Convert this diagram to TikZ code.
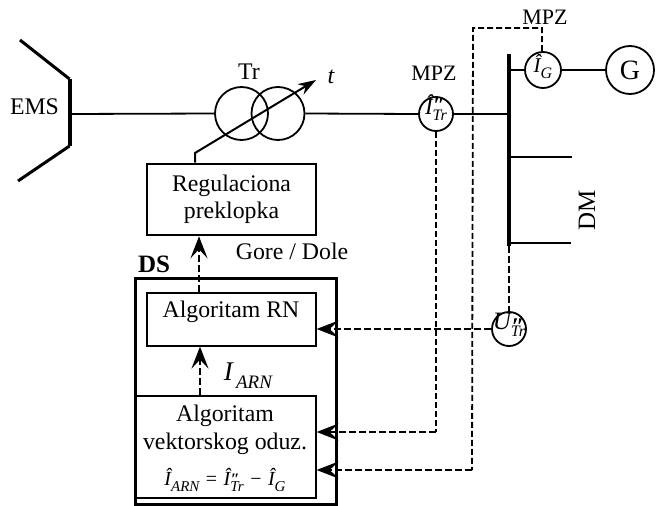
\documentclass[tikz,border=0pt]{standalone}
\usepackage{fontspec}
\setmainfont{Liberation Serif}
\usetikzlibrary{arrows.meta}
\def\subfs{16}
\def\supfs{22}
\def\suprs{0.05em}
\newcommand{\SubSup}[3]{{\itshape #1\rlap{\raisebox{\suprs}{\kern0.5pt\fontsize{\supfs}{\supfs}\selectfont\bfseries #2}}\raisebox{-0.3em}{\fontsize{\subfs}{\subfs}\selectfont #3}}}
\newcommand{\Sb}[2]{{\itshape #1\raisebox{-0.3em}{\fontsize{\subfs}{\subfs}\selectfont #2}}}
\newcommand{\Ctr}[1]{\smash{\makebox[0pt]{#1}}}
\tikzset{
 base/.style={font=\fontsize{23.8}{27}\selectfont},
 lbl/.style={base,inner sep=0pt,align=center},
 ring/.style={draw,circle,line width=1.8pt,inner sep=0pt,minimum size=#1},
 wire/.style={line width=1.8pt},
 sig/.style={line width=2.2pt,dash pattern=on 7pt off 3pt},
 sigthin/.style={line width=1.8pt,dash pattern=on 6pt off 3pt},
 sigar/.style={sig,-{Stealth[length=22pt,width=17pt,inset=9pt]}},
 thinbox/.style={draw,line width=1.6pt,inner sep=0pt},
}
\begin{document}
\begin{tikzpicture}[x=1pt,y=-1pt]
\useasboundingbox (0,0) rectangle (656,506);
% EMS
\coordinate (e1) at (20,40);
\coordinate (e2) at (69.5,79);
\coordinate (e3) at (69.5,146);
\coordinate (e4) at (18,181);
\coordinate (emsp) at (69.5,114);
\draw[line width=3pt] (e1) -- (e2);
\draw[line width=4pt] (e2) -- (e3);
\draw[line width=3pt] (e3) -- (e4);
\node[lbl] (ems) at (34.5,107) {EMS};
% transformer
\node[ring=53pt] (t1) at (241.5,113.5) {};
\node[ring=53pt] (t2) at (278,113.5) {};
\node[lbl] (tr) at (249,72) {Tr};
\node[lbl,font=\fontsize{24}{27}\selectfont\itshape] (tt) at (331,77) {t};
% bus
\node[fill=black,inner sep=0pt,minimum width=4pt,minimum height=192pt] (bus) at (509,150) {};
% measuring points
\node[ring=34pt] (itr) at (436,114) {};
\node[lbl] at (itr) {\Ctr{\fontsize{23}{23}\selectfont\SubSup{Î}{″}{Tr}}};
\node[ring=36pt] (ig) at (543,70) {};
\node[lbl] at ([yshift=-2pt]ig) {\Ctr{\fontsize{21}{21}\selectfont\Sb{Î}{G}}};
\node[ring=48pt] (g) at (630,70) {};
\node[lbl,font=\fontsize{28}{28}\selectfont] at (g) {G};
\node[ring=34pt] (u) at (509,329) {};
\def\supfs{24}
\def\suprs{-0.22em}
\node[lbl] at (u) {\Ctr{\fontsize{25}{25}\selectfont\SubSup{U}{″}{Tr}}};
\def\suprs{0.05em}
\node[lbl,font=\fontsize{22}{27}\selectfont] (mpza) at (545,17) {MPZ};
\node[lbl,font=\fontsize{22}{27}\selectfont] (mpzb) at (434,73) {MPZ};
% DM
\coordinate (d1) at (572,157);
\coordinate (d2) at (571,243);
\node[lbl,rotate=90,font=\fontsize{25}{27}\selectfont] (dm) at (587,210) {DM};
% power wires
\draw[wire] (emsp) -- (t1.west);
\draw[wire] (t2.east) -- (itr.west);
\draw[wire] (itr.east) -- (itr.east -| bus.east);
\draw[wire] (ig.west) -- (ig.west -| bus.east);
\draw[wire] (ig.east) -- (g.west);
\draw[wire] (d1) -- (d1 -| bus.east);
\draw[wire] (d2) -- (d2 -| bus.east);
% boxes
\node[draw,line width=2.6pt,minimum width=169pt,minimum height=71pt,inner sep=0pt,lbl] (reg) at (231.5,199.5) {Regulaciona\\preklopka};
\node[draw,line width=3pt,inner sep=0pt,minimum width=201pt,minimum height=226pt] (ds) at (235.5,391) {};
\node[lbl,font=\fontsize{25}{27}\selectfont\bfseries] (dsl) at (154,264) {DS};
\node[thinbox,minimum width=169pt,minimum height=53pt,anchor=north west,base] (rn) at (146,292) {};
\node[lbl] at (231,312) {Algoritam RN};
\node[thinbox,minimum width=180pt,minimum height=102pt,anchor=north west] (vo) at (135,395) {};
\node[lbl] at (225,416) {Algoritam};
\node[lbl] at (225,444) {vektorskog oduz.};
\def\subfs{15}
\def\supfs{16}
\node[lbl,font=\fontsize{20}{20}\selectfont] (f) at (225,480) {\Sb{Î}{ARN}\kern1.5pt{} = \kern1.5pt\SubSup{Î}{″}{Tr}\kern1.5pt{} − \kern1.5pt\Sb{Î}{G}};
\node[lbl] (gd) at (292,251) {Gore / Dole};
\def\subfs{19}
\node[lbl,font=\fontsize{27}{27}\selectfont] (iarn) at (248,376) {\Sb{I}{\,ARN}};
% tap changer
\coordinate (tp1) at (195,153);
\coordinate (tp2) at (316,80);
\draw[line width=2pt,-{Stealth[length=18pt,width=12pt]}] (tp1 |- reg.north) -- (tp1) -- (tp2);
% signal lines
\coordinate (a) at (199,292);
\draw[sigar] (a) -- (a |- reg.south);
\coordinate (b) at (200,395);
\draw[sigar] (b) -- (b |- rn.south);
\draw[sig] (bus.south) -- (u.north);
\draw[sigar] (u.west) -- (u.west -| rn.east);
\coordinate (c) at (436,432);
\draw[sigthin] (itr.south) -- (c);
\draw[sigar] (c) -- (c -| vo.east);
\coordinate (h1) at (542,28);
\coordinate (h2) at (473,28);
\coordinate (h3) at (472,470);
\draw[sigthin] (ig.north -| h1) -- (h1) -- (h2) -- (h3);
\draw[sigar] (h3) -- (h3 -| vo.east);
\end{tikzpicture}
\end{document}
